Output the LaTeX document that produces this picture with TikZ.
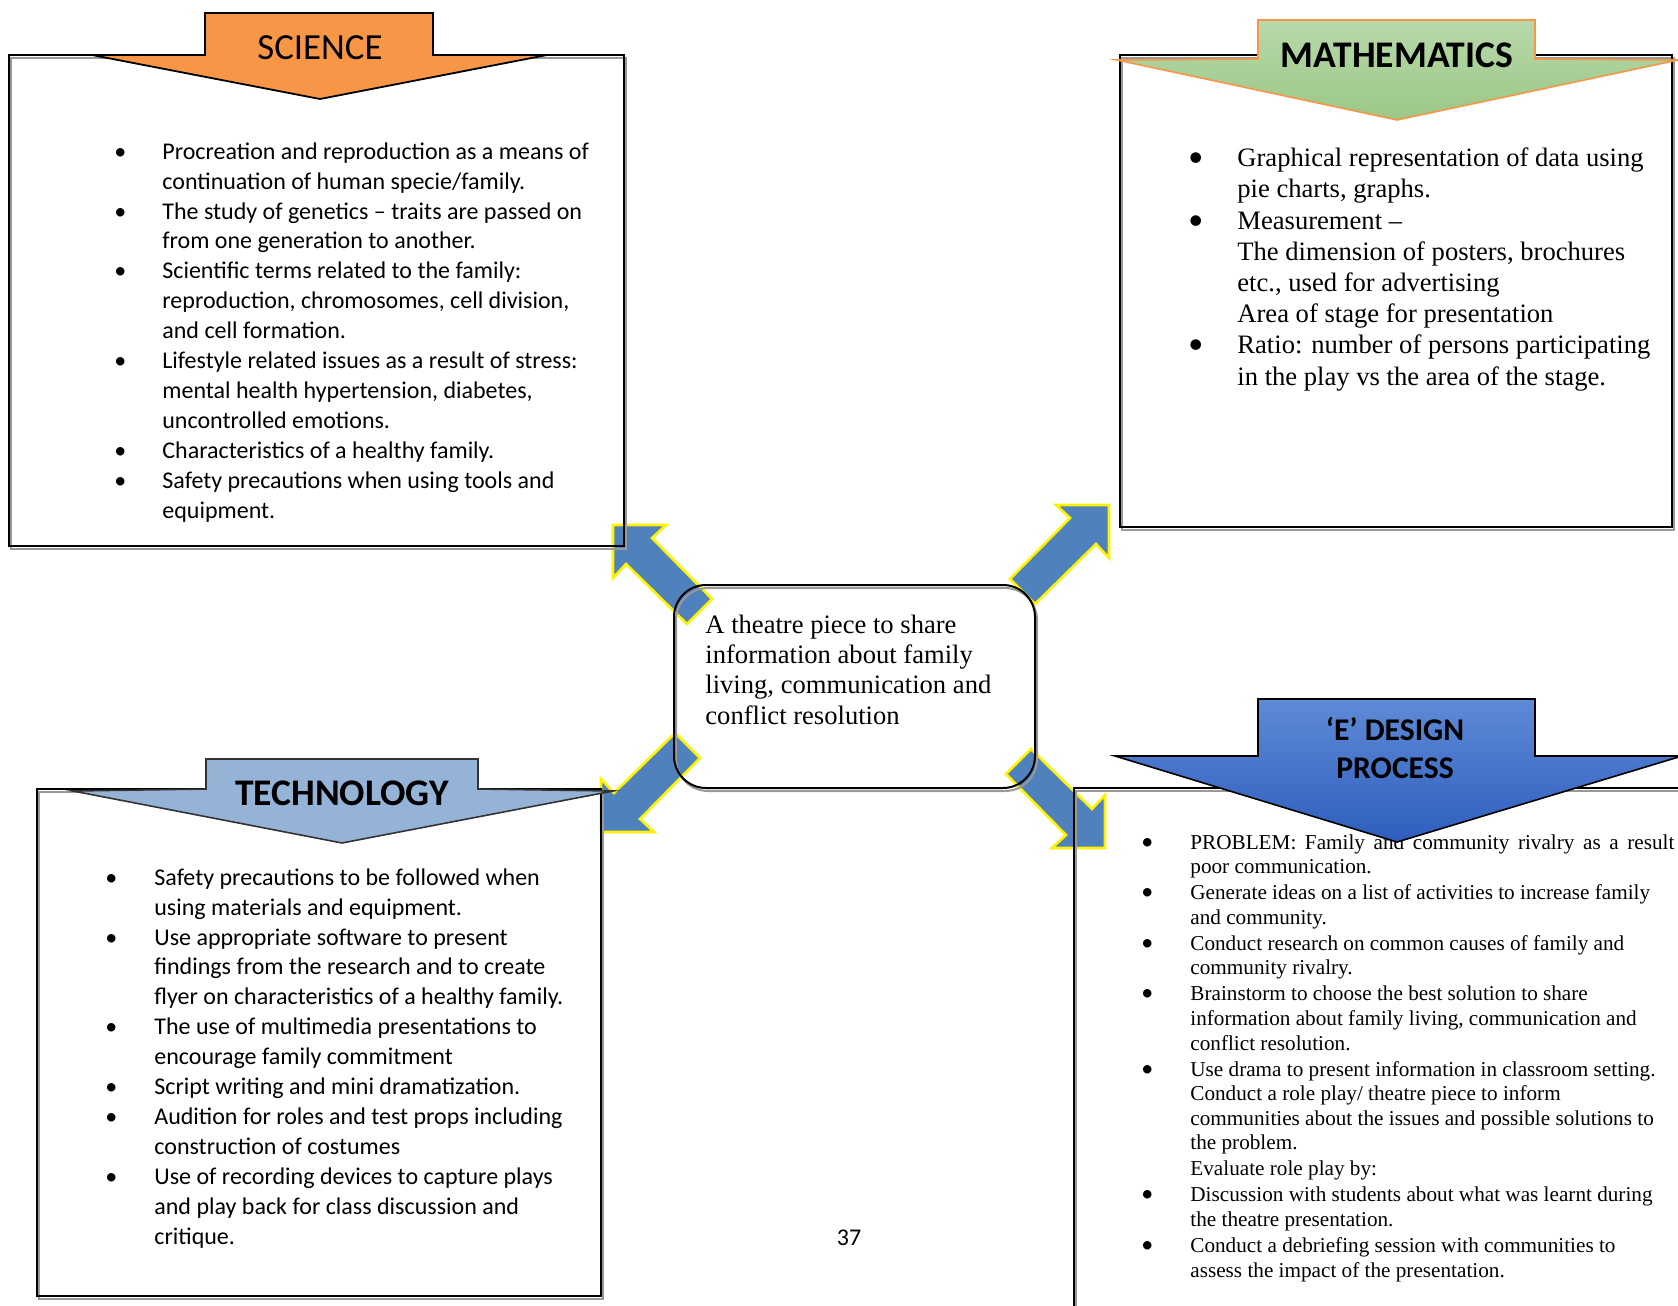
\documentclass[tikz,border=0pt]{standalone}
\usepackage{fontspec}
\setmainfont{Liberation Serif}
\newfontfamily\calfont{Carlito}
\definecolor{arrowblue}{HTML}{4F81BD}
\definecolor{sciorange}{HTML}{F79646}
\definecolor{greenA}{HTML}{B8D9AB}
\definecolor{greenB}{HTML}{9BC785}
\definecolor{techblue}{HTML}{95B3D7}
\definecolor{eblueA}{HTML}{5F8AD6}
\definecolor{eblueB}{HTML}{2E5EBE}
\newcommand\bitem[1]{\makebox[#1][l]{\textbullet}}
\newcommand\bigbul[2]{\makebox[#1][l]{\hspace*{-1pt}{\calfont\fontsize{#2}{#2}\selectfont\textbullet}}}
\newcommand\bcont[1]{\hspace*{#1}}
\begin{document}
\begin{tikzpicture}[x=0.5pt,y=-0.5pt,
  arrowstyle/.style={fill=arrowblue, draw=yellow, line width=1.3pt, line join=miter},
  frame/.style={draw=black, line width=1pt},
  frameshadow/.style={draw=black!40, line width=1pt},
  calbody/.style={font={\calfont\fontsize{12}{14.95}\selectfont}, align=left, inner sep=0pt, anchor=base west},
  serbody/.style={font={\fontsize{13.3}{15.6}\selectfont}, align=left, inner sep=0pt, anchor=base west},
  esmall/.style={font={\fontsize{10.6}{12.3}\selectfont}, align=left, inner sep=0pt, anchor=base west},
  hdr/.style={font={\calfont\fontsize{18.4}{22}\selectfont}, inner sep=0pt, anchor=base},
  hdrb/.style={font={\calfont\bfseries\fontsize{18.8}{22}\selectfont}, inner sep=0pt, anchor=base},
  hdre/.style={font={\calfont\bfseries\fontsize{15.8}{19}\selectfont}, inner sep=0pt, anchor=base}
]
\useasboundingbox (0,0) rectangle (1678,1306);
\clip (0,0) rectangle (1678,1306);
\fill[white] (0,0) rectangle (1678,1306);

% block arrows from the central box
\newcommand\blockarrow[3]{%
  \begin{scope}[shift={#1}, xscale=#2, yscale=#3]
    \draw[arrowstyle] (0,0) -- (53,0) -- (39,13) -- (99,74) -- (74,99) -- (13,39) -- (0,53) -- cycle;
  \end{scope}}
\coordinate (tipNW) at (613,525);
\coordinate (tipNE) at (1109,505);
\coordinate (tipSW) at (601,832);
\coordinate (tipSE) at (1105,848);
\blockarrow{(tipNW)}{1}{1}
\blockarrow{(tipNE)}{-1}{1}
\blockarrow{(tipSW)}{1}{-1}
\blockarrow{(tipSE)}{-1}{-1}

% frames
\draw[frameshadow] (11,58) rectangle (626,549);
\draw[frame] (9,55) rectangle (624,546);
\draw[frameshadow] (1122,58) rectangle (1674,530);
\draw[frame] (1120,55) rectangle (1672,527);
\draw[frameshadow] (39,792) rectangle (603,1299);
\draw[frame] (37,789) rectangle (601,1296);
\draw[frameshadow] (1076,791) rectangle (1700,1330);
\draw[frame] (1074,788) rectangle (1700,1330);
\draw[frameshadow, rounded corners=16pt] (676,588) rectangle (1037,791);
\draw[frame, rounded corners=16pt] (674,585) rectangle (1035,788);

% central text (anchored at the baseline of its last line)
\node[serbody, font={\fontsize{13.3}{15.15}\selectfont}] (center) at (705,724) {A theatre piece to share\\
information about family\\
living, communication and\\
conflict resolution};

% science text
\node[calbody] (scitext) at (114,518) {%
\bitem{24pt}Procreation and reproduction as a means of\\
\bcont{24pt}continuation of human specie/family.\\
\bitem{24pt}The study of genetics – traits are passed on\\
\bcont{24pt}from one generation to another.\\
\bitem{24pt}Scientific terms related to the family:\\
\bcont{24pt}reproduction, chromosomes, cell division,\\
\bcont{24pt}and cell formation.\\
\bitem{24pt}Lifestyle related issues as a result of stress:\\
\bcont{24pt}mental health hypertension, diabetes,\\
\bcont{24pt}uncontrolled emotions.\\
\bitem{24pt}Characteristics of a healthy family.\\
\bitem{24pt}Safety precautions when using tools and\\
\bcont{24pt}equipment.};

% technology text
\node[calbody] (techtext) at (105,1244) {%
\bitem{24.5pt}Safety precautions to be followed when\\
\bcont{24.5pt}using materials and equipment.\\
\bitem{24.5pt}Use appropriate software to present\\
\bcont{24.5pt}findings from the research and to create\\
\bcont{24.5pt}flyer on characteristics of a healthy family.\\
\bitem{24.5pt}The use of multimedia presentations to\\
\bcont{24.5pt}encourage family commitment\\
\bitem{24.5pt}Script writing and mini dramatization.\\
\bitem{24.5pt}Audition for roles and test props including\\
\bcont{24.5pt}construction of costumes\\
\bitem{24.5pt}Use of recording devices to capture plays\\
\bcont{24.5pt}and play back for class discussion and\\
\bcont{24.5pt}critique.};

% mathematics text
\node[serbody] (mathtext) at (1190,385) {%
\bigbul{23.5pt}{15}Graphical representation of data using\\
\bcont{23.5pt}pie charts, graphs.\\
\bigbul{23.5pt}{15}Measurement –\\
\bcont{23.5pt}The dimension of posters, brochures\\
\bcont{23.5pt}etc., used for advertising\\
\bcont{23.5pt}Area of stage for presentation\\
\bigbul{23.5pt}{15}Ratio: number of persons participating\\
\bcont{23.5pt}in the play vs the area of the stage.};

% E design text
\node[esmall] (etext) at (1143,1277) {%
\bigbul{23.5pt}{12}\makebox[242pt][s]{PROBLEM: Family and community rivalry as a result}\\
\bcont{23.5pt}poor communication.\\[0.7pt]
\bigbul{23.5pt}{12}Generate ideas on a list of activities to increase family\\
\bcont{23.5pt}and community.\\[0.7pt]
\bigbul{23.5pt}{12}Conduct research on common causes of family and\\
\bcont{23.5pt}community rivalry.\\[0.7pt]
\bigbul{23.5pt}{12}Brainstorm to choose the best solution to share\\
\bcont{23.5pt}information about family living, communication and\\
\bcont{23.5pt}conflict resolution.\\[0.7pt]
\bigbul{23.5pt}{12}Use drama to present information in classroom setting.\\
\bcont{23.5pt}Conduct a role play/ theatre piece to inform\\
\bcont{23.5pt}communities about the issues and possible solutions to\\
\bcont{23.5pt}the problem.\\[0.7pt]
\bcont{23.5pt}Evaluate role play by:\\[0.7pt]
\bigbul{23.5pt}{12}Discussion with students about what was learnt during\\
\bcont{23.5pt}the theatre presentation.\\[0.7pt]
\bigbul{23.5pt}{12}Conduct a debriefing session with communities to\\
\bcont{23.5pt}assess the impact of the presentation.};

% headers
\draw[fill=sciorange, draw=black, line width=0.9pt] (205,13) -- (433,13) -- (433,55) -- (547,55) -- (320,99) -- (92,55) -- (205,55) -- cycle;
\node[hdr] (scititle) at (320,59) {SCIENCE};

\draw[top color=greenA, bottom color=greenB, draw=sciorange, line width=0.8pt] (1258,20) -- (1535,20) -- (1535,59) -- (1678,60) -- (1397,120) -- (1117,60) -- (1258,59) -- cycle;
\node[hdrb] (mathtitle) at (1397,68) {MATHEMATICS};

\draw[fill=techblue, draw=black!80, line width=0.8pt] (206,759) -- (478,759) -- (478,789) -- (613,791) -- (342,843) -- (73,791) -- (206,789) -- cycle;
\node[hdrb] (techtitle) at (342,805) {TECHNOLOGY};

\draw[top color=eblueA, bottom color=eblueB, draw=black, line width=0.8pt] (1258,699) -- (1535,699) -- (1535,756) -- (1682,756) -- (1397,842) -- (1115,756) -- (1258,756) -- cycle;
\node[hdre] (etitleA) at (1395,740) {‘E’ DESIGN};
\node[hdre] (etitleB) at (1395,778) {PROCESS};

\node[font={\calfont\fontsize{12}{14}\selectfont}, inner sep=0pt, anchor=base] (pagenum) at (849,1245) {37};
\end{tikzpicture}
\end{document}
